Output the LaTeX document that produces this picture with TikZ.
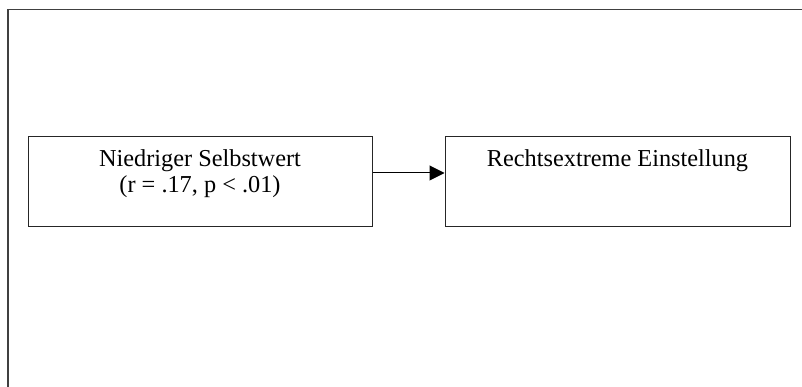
\documentclass[tikz,border=0pt]{standalone}
\usepackage{fontspec}
\setmainfont{Liberation Serif}
\usetikzlibrary{arrows.meta}
\begin{document}
\begin{tikzpicture}[x=1pt,y=-1pt,
  box/.style={draw=black!85, line width=1pt, rectangle, inner sep=0pt},
  txt/.style={anchor=base, inner sep=0pt, font=\fontsize{24.3}{27}\selectfont},
  frame/.style={draw=black!75, line width=1.6pt},
  conn/.style={draw=black, line width=1pt, -{Triangle[length=15pt,width=15pt]}}]
\useasboundingbox (0,0) rectangle (802,387);
\begin{scope}
\clip (0,0) rectangle (802,387);
\coordinate (fbl) at (8,400);
\coordinate (ftl) at (8,9.5);
\coordinate (ftr) at (810,9.5);
\draw[frame] (fbl) -- (ftl) -- (ftr);
\end{scope}
\node[box, minimum width=344pt, minimum height=90pt] (a) at (200,182) {};
\node[box, minimum width=345pt, minimum height=90pt] (b) at (617.5,182) {};
\node[txt] (a1) at (200,167) {Niedriger Selbstwert};
\node[txt] (a2) at (200,193) {(r = .17, p < .01)};
\node[txt] (b1) at (617.5,167) {Rechtsextreme Einstellung};
\coordinate (ay) at (0,173);
\draw[conn] (a.east |- ay) -- (b.west |- ay);
\end{tikzpicture}
\end{document}
